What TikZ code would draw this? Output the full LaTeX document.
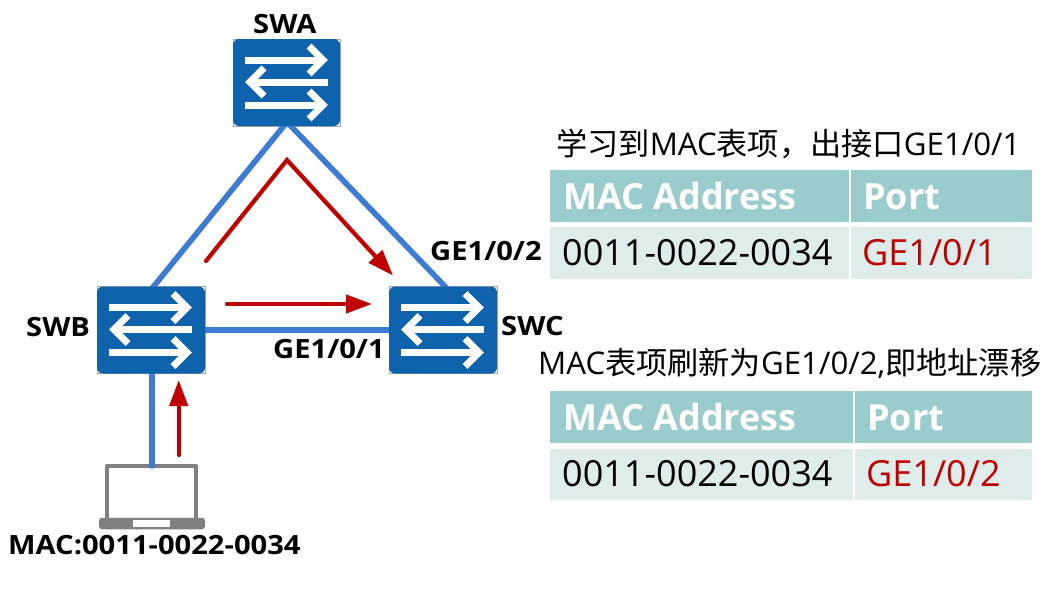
\documentclass[tikz,border=0pt]{standalone}
\usepackage{fontspec}
\setmainfont{Open Sans}
\newfontfamily\cjk{Noto Sans CJK SC}
\newfontfamily\lblfont[FakeStretch=1.1]{Open Sans}
\usetikzlibrary{arrows.meta,calc}
\definecolor{swblue}{HTML}{0F62AC}
\definecolor{linkblue}{HTML}{3D7CD2}
\definecolor{redline}{HTML}{C00000}
\definecolor{hdr}{HTML}{9BCCCD}
\definecolor{rowc}{HTML}{DEECEC}
\definecolor{lapgray}{HTML}{808080}
\tikzset{
  switchbox/.style={fill=swblue,rounded corners=6pt,minimum width=107pt,minimum height=87pt,inner sep=0pt,outer sep=0pt,draw=none},
  switchframe/.style={draw=black!35,line width=0.6pt,fill=white,minimum width=107pt,minimum height=87pt,inner sep=0pt,outer sep=0pt},
  link/.style={draw=linkblue,line width=5.6pt},
  flow/.style={draw=redline,line width=4.2pt,line cap=round,line join=miter,-{Triangle[length=26pt,width=18pt]}},
  hdrcell/.style={fill=hdr},
  rowcell/.style={fill=rowc},
  lbl/.style={font=\fontsize{26.5}{26.5}\lblfont\bfseries,text=black,inner sep=0pt,anchor=base west},
  hdrtxt/.style={font=\fontsize{36}{36}\selectfont\bfseries,text=white,inner sep=0pt,anchor=base west},
  celltxt/.style={font=\fontsize{36}{36}\selectfont,text=black,inner sep=0pt,anchor=base west},
  porttxt/.style={font=\fontsize{36}{36}\selectfont,text=redline,inner sep=0pt,anchor=base west},
  title/.style={font=\fontsize{31.2}{31.2}\selectfont,text=black,inner sep=0pt,anchor=base west},
}
% white arrows inside a switch (positions relative to the top left corner of the node)
\newcommand{\swarrows}[1]{%
  \begin{scope}[shift={(#1.north west)},draw=white,line width=7pt,line join=miter,line cap=butt]
    \draw (12,21) -- (90,21);
    \draw (76,7) -- (90,21) -- (76,35);
    \draw (17,43) -- (95,43);
    \draw (31,29) -- (17,43) -- (31,57);
    \draw (12,66) -- (90,66);
    \draw (76,52) -- (90,66) -- (76,80);
  \end{scope}}
\begin{document}
\begin{tikzpicture}[x=1pt,y=-1pt]
\useasboundingbox[fill=white] (0,0) rectangle (1059,597);
% laptop
\coordinate (lapnw) at (107,466);
\draw[lapgray,line width=4pt,fill=white,line join=round] (lapnw) rectangle (196,520);
\node[fill=lapgray,rounded corners=3pt,minimum width=106pt,minimum height=11.5pt,inner sep=0pt] (lapbase) at (152,523.5) {};
\node[fill=white,minimum width=37pt,minimum height=7pt,inner sep=0pt] (lapslot) at (151.5,523.5) {};
% switch frames
\coordinate (apex) at (287,122);
\node[switchframe] (swa) at (286.5,82.5) {};
\node[switchframe,minimum width=108pt] (swb) at (151,330) {};
\node[switchframe,minimum width=108pt] (swc) at (443,330) {};
\coordinate (swbtop) at ($(swb.north)+(1,2)$);
\coordinate (swctop) at ($(swc.north)+(4,2)$);
% links
\draw[link] (apex) -- (swbtop);
\draw[link] (apex) -- (swctop);
\draw[link] (swb.east) -- (swc.west);
\draw[link,line cap=round] (swb.south -| lapbase.north) -- ($(lapnw)+(45,0)$);
% switches over the link ends
\node[switchbox] (swa2) at (swa) {};
\node[switchbox,minimum width=108pt] (swb2) at (swb) {};
\node[switchbox,minimum width=108pt] (swc2) at (swc) {};
\swarrows{swa2}
\swarrows{swb2}
\swarrows{swc2}
% red flows
\coordinate (f1s) at (178.7,455);
\coordinate (f1e) at (178.7,380);
\coordinate (f2s) at (227,304);
\coordinate (f2e) at (372,304);
\coordinate (f3s) at (206,261);
\coordinate (f3m) at (287,160);
\coordinate (f3e) at (393,275.5);
\draw[flow] (f1s) -- (f1e);
\draw[flow] (f2s) -- (f2e);
\draw[flow] (f3s) -- (f3m) -- (f3e);
% device labels
\node[lbl] (swal) at (253,33) {SWA};
\node[lbl] (swbl) at (26,336) {SWB};
\node[lbl] (swcl) at (501,335) {SWC};
\node[lbl] (p2) at (430,260) {GE1/0/2};
\node[lbl] (p1) at (273,358) {GE1/0/1};
\node[lbl] (macl) at (8,554) {MAC:0011-0022-0034};
% table 1
\node[title] (t1) at (556,155) {{\cjk 学习到}MAC{\cjk 表项，出接口}GE1/0/1};
\path[hdrcell] (550,170) rectangle (849,222);
\path[hdrcell] (851,170) rectangle (1032,222);
\path[rowcell] (550,227) rectangle (849,279);
\path[rowcell] (851,227) rectangle (1032,279);
\node[hdrtxt] (h1a) at (563,209) {MAC Address};
\node[hdrtxt] (h1b) at (863,209) {Port};
\node[celltxt] (c1a) at (562,265) {0011-0022-0034};
\node[porttxt] (c1b) at (862,265) {GE1/0/1};
% table 2
\node[title] (t2) at (538,374) {MAC{\cjk 表项刷新为}GE1/0/2,{\cjk 即地址漂移}};
\path[hdrcell] (550,391) rectangle (853,443);
\path[hdrcell] (855,391) rectangle (1032,443);
\path[rowcell] (550,449) rectangle (853,500);
\path[rowcell] (855,449) rectangle (1032,500);
\node[hdrtxt] (h2a) at (563,430) {MAC Address};
\node[hdrtxt] (h2b) at (867,430) {Port};
\node[celltxt] (c2a) at (562,486) {0011-0022-0034};
\node[porttxt] (c2b) at (866,486) {GE1/0/2};
\end{tikzpicture}
\end{document}
